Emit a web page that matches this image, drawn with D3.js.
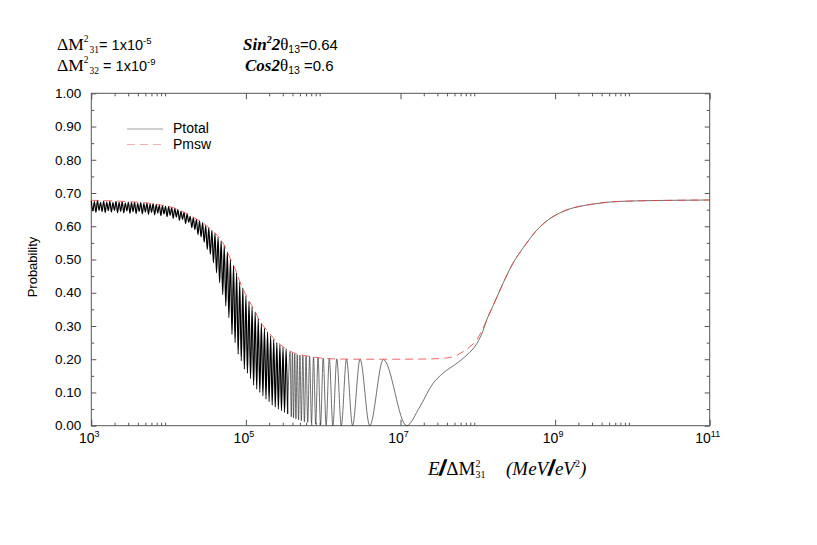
<!DOCTYPE html>
<html>
<head>
<meta charset="utf-8">
<script src="https://cdn.jsdelivr.net/npm/d3@7/dist/d3.min.js"></script>
<style>
  body { margin: 0; background: #fff; }
  svg { display: block; }
  text { font-family: "Liberation Sans", Arial, sans-serif; fill: #000; }
  .serif { font-family: "Liberation Serif", "Times New Roman", serif; }
</style>
</head>
<body>
<svg width="817" height="545"></svg>
<script>
// x values are log10(E / dM31^2)
const denseLogE = [3.00,3.02,3.04,3.06,3.08,3.10,3.12,3.14,3.16,3.18,3.20,3.22,3.24,3.26,3.28,3.30,3.32,3.34,3.36,3.38,
  3.40,3.42,3.44,3.46,3.48,3.50,3.52,3.54,3.56,3.58,3.60,3.62,3.64,3.66,3.68,3.70,3.72,3.74,3.76,3.78,
  3.80,3.82,3.84,3.86,3.88,3.90,3.92,3.94,3.96,3.98,4.00,4.02,4.04,4.06,4.08,4.10,4.12,4.14,4.16,4.18,
  4.20,4.22,4.24,4.26,4.28,4.30,4.32,4.34,4.36,4.38,4.40,4.42,4.44,4.46,4.48,4.50,4.52,4.54,4.56,4.58,
  4.60,4.62,4.64,4.66,4.68,4.70,4.72,4.74,4.76,4.78,4.80,4.82,4.84,4.86,4.88,4.90,4.92,4.94,4.96,4.98,
  5.00,5.02,5.04,5.06,5.08,5.10,5.12,5.14,5.16,5.18,5.20,5.22,5.24,5.26,5.28,5.30,5.32,5.34,5.36,5.38,
  5.40,5.42,5.44,5.46,5.48,5.50,5.52,5.54];
const denseP = [.676,.646,.674,.642,.677,.648,.672,.644,.676,.641,.673,.647,.675,.643,.671,.648,.675,.641,.672,.645,
  .674,.640,.670,.646,.673,.639,.671,.644,.672,.638,.669,.645,.671,.637,.668,.643,.670,.636,.667,.642,
  .668,.634,.665,.640,.664,.632,.662,.637,.660,.629,.659,.633,.656,.624,.654,.628,.650,.618,.645,.621,
  .642,.608,.637,.612,.630,.596,.626,.590,.621,.575,.616,.568,.611,.552,.602,.530,.595,.515,.588,.490,
  .578,.460,.567,.430,.556,.395,.542,.360,.522,.325,.500,.275,.482,.250,.460,.215,.432,.195,.415,.170,
  .390,.158,.373,.142,.358,.122,.342,.110,.322,.100,.308,.090,.293,.080,.282,.072,.270,.062,.259,.056,
  .250,.050,.243,.045,.236,.040,.231,.035];

// resolved oscillations and the rise above 1e7
const tailLogE = [5.54,5.572,5.587,5.602,5.616,5.632,5.647,5.664,5.681,5.699,5.717,5.737,5.757,5.778,5.8,5.824,5.849,
  5.875,5.903,5.933,5.966,6.0,6.038,6.079,6.125,6.176,6.234,6.301,6.38,6.477,6.602,6.778,7.079,
  7.25,7.42,7.55,7.73,7.86,7.99,8.07,8.115,8.2,8.287,8.37,8.455,8.55,8.633,8.75,8.87,9.06,9.2,9.32,
  9.5,9.71,10.0,10.5,11.0];
const tailP = [.035,.222,.027,.219,.024,.216,.021,.214,.018,.212,.015,.211,.012,.209,.010,.208,.008,
  .206,.005,.205,.003,.203,.001,.202,0,.201,0,.200,0,.200,0,.199,0,
  .057,.127,.158,.188,.213,.248,.287,.318,.362,.408,.450,.489,.523,.550,.585,.612,.640,.653,.660,
  .667,.673,.676,.678,.679];

const pmswLogE = [3.0,3.4,3.85,4.15,4.28,4.49,4.6,4.71,4.79,4.86,4.92,4.98,5.05,5.12,5.18,5.27,5.35,5.45,5.57,
  5.7,5.83,6.0,6.13,6.5,7.0,7.4,7.6,7.7,7.81,7.9,7.986,8.05,8.115,8.2,8.287,8.37,8.455,8.55,8.633,
  8.75,8.87,9.06,9.2,9.32,9.5,9.71,10.0,10.5,11.0];
const pmswP = [.678,.675,.666,.648,.632,.602,.580,.547,.507,.472,.435,.403,.372,.343,.314,.288,.265,.243,.224,
  .214,.208,.203,.201,.200,.200,.201,.204,.209,.223,.238,.258,.285,.318,.362,.408,.450,.489,.523,.550,
  .585,.612,.640,.653,.660,.667,.673,.676,.678,.679];

const majorExp = [3, 5, 7, 9, 11];
const minorMult = [2, 3, 4, 5, 6, 7, 8, 9];
const yMajor = [0, 0.1, 0.2, 0.3, 0.4, 0.5, 0.6, 0.7, 0.8, 0.9, 1.0];
const yMinor = [0.05, 0.15, 0.25, 0.35, 0.45, 0.55, 0.65, 0.75, 0.85, 0.95];

const margin = { top: 93.3, left: 91.3 };
const width = 618.4, height = 332.4;

const svg = d3.select("svg");
const g = svg.append("g").attr("transform", "translate(" + margin.left + "," + margin.top + ")");

const x = d3.scaleLog().domain([1e3, 1e11]).range([0, width]);
const y = d3.scaleLinear().domain([0, 1]).range([height, 0]);

const majorE = majorExp.map((e) => Math.pow(10, e));
const minorE = [];
majorExp.slice(0, -1).forEach((e) => minorMult.forEach((m) => minorE.push(m * Math.pow(10, e))));

// axes: ticks point inwards on all four sides
const axisStyle = (sel) => {
  sel.select(".domain").remove();
  sel.selectAll(".tick line").attr("stroke", "#555");
};
g.append("g").attr("transform", "translate(0," + height + ")")
  .call(d3.axisBottom(x).tickValues(majorE).tickSize(-6).tickFormat("")).call(axisStyle);
g.append("g").attr("transform", "translate(0," + height + ")")
  .call(d3.axisBottom(x).tickValues(minorE).tickSize(-3).tickFormat("")).call(axisStyle);
g.append("g").call(d3.axisTop(x).tickValues(majorE).tickSize(-6).tickFormat("")).call(axisStyle);
g.append("g").call(d3.axisTop(x).tickValues(minorE).tickSize(-3).tickFormat("")).call(axisStyle);
g.append("g").call(d3.axisLeft(y).tickValues(yMajor).tickSize(-5).tickFormat("")).call(axisStyle);
g.append("g").call(d3.axisLeft(y).tickValues(yMinor).tickSize(-3).tickFormat("")).call(axisStyle);
g.append("g").attr("transform", "translate(" + width + ",0)")
  .call(d3.axisRight(y).tickValues(yMajor).tickSize(-5).tickFormat("")).call(axisStyle);
g.append("g").attr("transform", "translate(" + width + ",0)")
  .call(d3.axisRight(y).tickValues(yMinor).tickSize(-3).tickFormat("")).call(axisStyle);

g.append("rect").attr("width", width).attr("height", height)
  .attr("fill", "none").attr("stroke", "#555").attr("stroke-width", 1);

// tick labels
g.selectAll(".ylab").data(yMajor).enter().append("text")
  .attr("x", -10).attr("y", (d) => y(d)).attr("dy", "0.35em")
  .attr("text-anchor", "end").style("font-size", "13.5px")
  .text((d) => d.toFixed(2));

const xl = g.selectAll(".xlab").data(majorExp).enter().append("text")
  .attr("x", (d) => x(Math.pow(10, d)) - 2).attr("y", height + 17)
  .attr("text-anchor", "middle").style("font-size", "14px");
xl.append("tspan").text("10");
xl.append("tspan").attr("dy", -6).style("font-size", "9px").text((d) => d);

svg.append("text").attr("transform", "translate(37,267) rotate(-90)")
  .attr("text-anchor", "middle").style("font-size", "13px").text("Probability");

// curves
const toPts = (xs, ps) => xs.map((v, i) => ({ e: Math.pow(10, v), p: ps[i] }));
const line = d3.line().x((d) => x(d.e)).y((d) => y(d.p)).curve(d3.curveMonotoneX);

g.append("path").datum(toPts(denseLogE, denseP))
  .attr("fill", "none").attr("stroke", "#000").attr("stroke-width", 1.2)
  .attr("d", line);
g.append("path").datum(toPts(tailLogE, tailP))
  .attr("fill", "none").attr("stroke", "#333").attr("stroke-width", 0.7)
  .attr("d", line);
g.append("path").datum(toPts(pmswLogE, pmswP))
  .attr("fill", "none").attr("stroke", "#ee4040").attr("stroke-width", 0.8)
  .attr("stroke-dasharray", "8,5")
  .attr("d", line);

// legend
svg.append("line").attr("x1", 127).attr("x2", 163).attr("y1", 129).attr("y2", 129)
  .attr("stroke", "#888").attr("stroke-width", 0.8);
svg.append("text").attr("x", 173).attr("y", 133).style("font-size", "14px").text("Ptotal");
svg.append("line").attr("x1", 127).attr("x2", 163).attr("y1", 144.5).attr("y2", 144.5)
  .attr("stroke", "#f29a9a").attr("stroke-width", 0.8).attr("stroke-dasharray", "8,5");
svg.append("text").attr("x", 173).attr("y", 149).style("font-size", "14px").text("Pmsw");

// parameter annotations
const dm = (xPos, yPos, sub, expo, eq) => {
  const t = svg.append("text").attr("x", xPos).attr("y", yPos);
  t.append("tspan").attr("class", "serif").style("font-size", "17.5px").text("\u0394M");
  t.append("tspan").attr("class", "serif").attr("dy", -8).style("font-size", "9.5px").text("2");
  t.append("tspan").attr("class", "serif").attr("dy", 11).attr("dx", 1).style("font-size", "9.5px").text(sub);
  t.append("tspan").attr("dy", -3).style("font-size", "14.5px").text(eq + "1x10");
  t.append("tspan").attr("dy", -6).style("font-size", "9.5px").text(expo);
};
dm(57, 50, "31", "-5", "= ");
dm(57, 71, "32", "-9", " = ");

const bi = (t, s, txt) => t.append("tspan").attr("class", "serif").style("font-size", s)
  .style("font-weight", "bold").style("font-style", "italic").text(txt);
const sin = svg.append("text").attr("x", 243).attr("y", 50);
bi(sin, "17px", "Sin");
bi(sin, "10px", "2").attr("dy", -7);
bi(sin, "17px", "2").attr("dy", 7);
sin.append("tspan").attr("class", "serif").style("font-size", "17px").text("\u03b8");
sin.append("tspan").attr("dy", 3).style("font-size", "10.5px").text("13");
sin.append("tspan").attr("dy", -3).style("font-size", "15px").text("=0.64");

const cos = svg.append("text").attr("x", 245).attr("y", 71);
bi(cos, "17px", "Cos2");
cos.append("tspan").attr("class", "serif").style("font-size", "17px").text("\u03b8");
cos.append("tspan").attr("dy", 3).style("font-size", "10.5px").text("13");
cos.append("tspan").attr("dy", -3).style("font-size", "15px").text(" =0.6");

// x axis title
const slash = (t) => t.append("tspan").style("font-size", "24px").style("font-weight", "bold")
  .attr("stroke", "#000").attr("stroke-width", 1.3).text("/");
const xt = svg.append("text").attr("x", 428).attr("y", 475).attr("class", "serif").style("font-size", "19px");
xt.append("tspan").style("font-style", "italic").text("E");
slash(xt);
xt.append("tspan").text("\u0394M");
xt.append("tspan").attr("dy", -8).style("font-size", "10px").text("2");
xt.append("tspan").attr("dy", 11).attr("dx", -5).style("font-size", "10px").text("31");

const xu = svg.append("text").attr("x", 506).attr("y", 475).attr("class", "serif").style("font-size", "19px");
xu.append("tspan").style("font-style", "italic").text("(MeV");
slash(xu);
xu.append("tspan").style("font-style", "italic").text("eV");
xu.append("tspan").attr("dy", -8).style("font-size", "10px").text("2");
xu.append("tspan").attr("dy", 8).style("font-style", "italic").text(")");
</script>
</body>
</html>
